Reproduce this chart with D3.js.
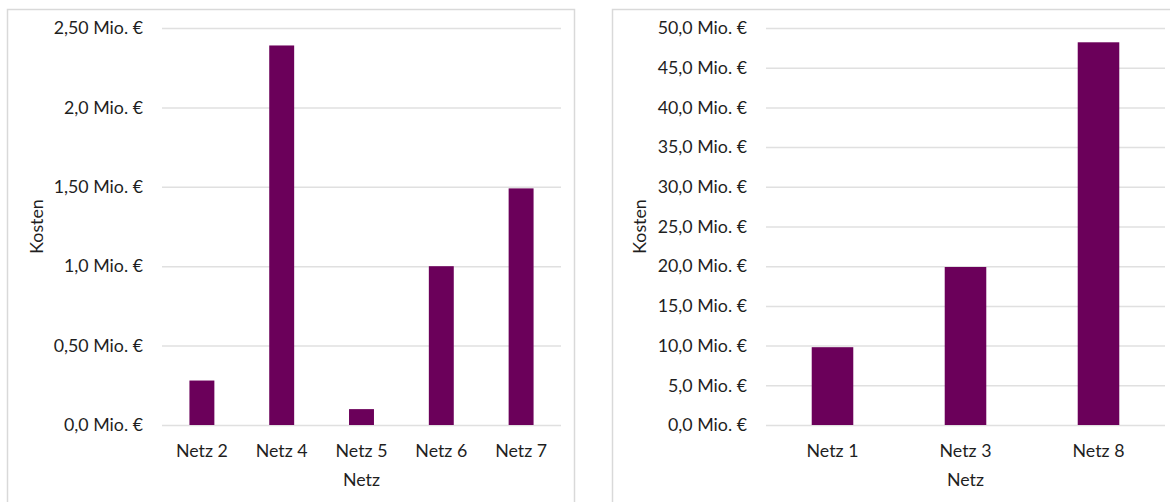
<!DOCTYPE html>
<html>
<head>
<meta charset="utf-8">
<script src="https://cdn.jsdelivr.net/npm/d3@7"></script>
<style>
  html, body { margin: 0; padding: 0; background: #fff; }
  svg { display: block; }
  text { font-family: Lato, "Open Sans", sans-serif; fill: #1f1f1f; }
</style>
</head>
<body>
<svg id="chart" width="1170" height="502"></svg>
<script>
// Kosten je Netz (Mio. €)
const leftCategories = ["Netz 2", "Netz 4", "Netz 5", "Netz 6", "Netz 7"];
const leftValues = [0.28, 2.39, 0.10, 1.0, 1.49];
const leftTickValues = [0, 0.5, 1.0, 1.5, 2.0, 2.5];
const leftTickLabels = ["0,0 Mio. €", "0,50 Mio. €", "1,0 Mio. €", "1,50 Mio. €", "2,0 Mio. €", "2,50 Mio. €"];

const rightCategories = ["Netz 1", "Netz 3", "Netz 8"];
const rightValues = [9.8, 19.9, 48.2];
const rightTickValues = [0, 5, 10, 15, 20, 25, 30, 35, 40, 45, 50];
const rightTickLabels = ["0,0 Mio. €", "5,0 Mio. €", "10,0 Mio. €", "15,0 Mio. €", "20,0 Mio. €",
  "25,0 Mio. €", "30,0 Mio. €", "35,0 Mio. €", "40,0 Mio. €", "45,0 Mio. €", "50,0 Mio. €"];

const xTitle = "Netz";
const yTitle = "Kosten";

const BAR = "#6b005a";
const GRID = "#e0e0e0";
const BORDER = "#d9d9d9";
const TEXT = "#1f1f1f";
const FONT = 17.8;
const gap = 0.6875; // bars take ~31% of each category slot

const svg = d3.select("#chart");

function panel(cfg) {
  const g = svg.append("g");

  // chart area frame
  g.append("rect")
    .attr("x", cfg.frame[0] + 0.5).attr("y", cfg.frame[1] + 0.5)
    .attr("width", cfg.frame[2]).attr("height", cfg.frame[3])
    .attr("fill", "none").attr("stroke", BORDER).attr("stroke-width", 1.5);

  const x = d3.scaleBand()
    .domain(cfg.categories)
    .range([cfg.plot.left, cfg.plot.right])
    .paddingInner(gap).paddingOuter(gap / 2);

  const y = d3.scaleLinear()
    .domain([0, d3.max(cfg.ticks)])
    .range([cfg.plot.bottom, cfg.plot.top]);

  // horizontal gridlines + tick labels
  const yAxis = d3.axisLeft(y)
    .tickValues(cfg.ticks)
    .tickFormat((d, i) => cfg.tickLabels[i])
    .tickSize(-(cfg.plot.right - cfg.plot.left))
    .tickPadding(cfg.plot.left - cfg.labelRight);

  const ya = g.append("g")
    .attr("transform", `translate(${cfg.plot.left},0)`)
    .call(yAxis);
  ya.select(".domain").remove();
  ya.selectAll(".tick line").attr("stroke", GRID).attr("stroke-width", 1.5);
  ya.selectAll(".tick text")
    .attr("font-size", FONT)
    .attr("font-family", "Lato, 'Open Sans', sans-serif")
    .attr("fill", TEXT);

  // bars
  g.selectAll("rect.bar")
    .data(cfg.values)
    .join("rect")
    .attr("class", "bar")
    .attr("x", (d, i) => x(cfg.categories[i]))
    .attr("width", x.bandwidth())
    .attr("y", d => y(d))
    .attr("height", d => y(0) - y(d))
    .attr("fill", BAR);

  // category labels
  const xAxis = d3.axisBottom(x).tickSize(0).tickPadding(19);
  const xa = g.append("g")
    .attr("transform", `translate(0,${cfg.plot.bottom})`)
    .call(xAxis);
  xa.select(".domain").remove();
  xa.selectAll(".tick text")
    .attr("font-size", FONT)
    .attr("font-family", "Lato, 'Open Sans', sans-serif")
    .attr("fill", TEXT);

  // axis titles
  g.append("text")
    .attr("x", (cfg.plot.left + cfg.plot.right) / 2)
    .attr("y", 486)
    .attr("text-anchor", "middle")
    .attr("font-size", FONT)
    .text(xTitle);

  g.append("text")
    .attr("transform", `translate(${cfg.yTitleX},${(cfg.plot.top + cfg.plot.bottom) / 2}) rotate(-90)`)
    .attr("dy", "0.35em")
    .attr("text-anchor", "middle")
    .attr("font-size", FONT)
    .text(yTitle);
}

panel({
  frame: [7, 9, 567, 600],
  plot: { left: 162, right: 561, top: 28, bottom: 425 },
  labelRight: 143,
  yTitleX: 37,
  categories: leftCategories,
  values: leftValues,
  ticks: leftTickValues,
  tickLabels: leftTickLabels
});

panel({
  frame: [612, 9, 700, 600],
  plot: { left: 766, right: 1165, top: 28, bottom: 425 },
  labelRight: 747,
  yTitleX: 640,
  categories: rightCategories,
  values: rightValues,
  ticks: rightTickValues,
  tickLabels: rightTickLabels
});
</script>
</body>
</html>
